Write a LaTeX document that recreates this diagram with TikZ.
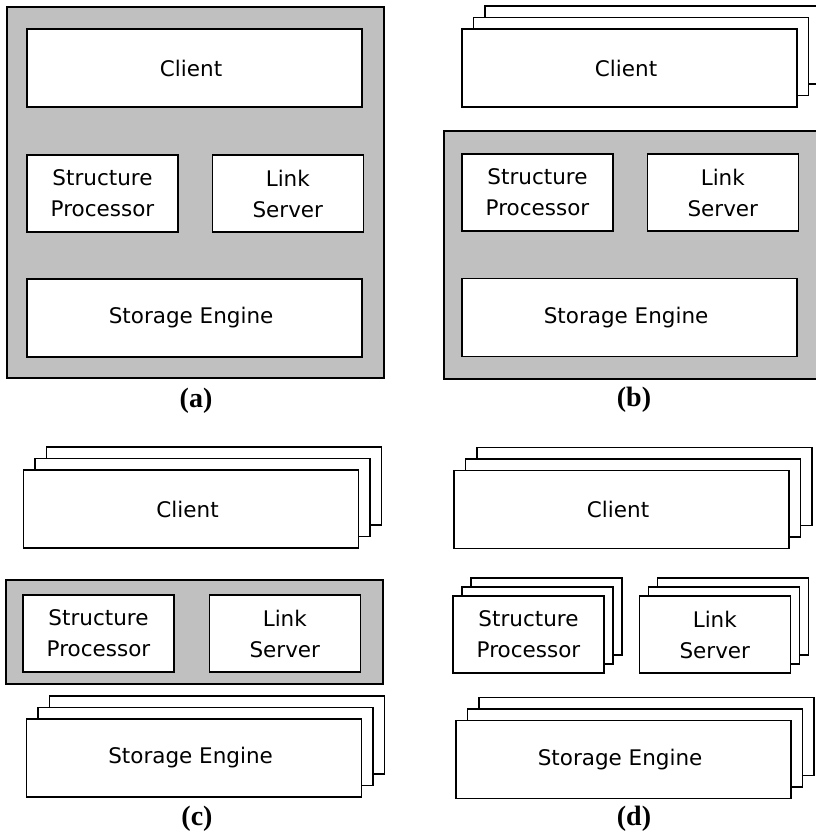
\documentclass[tikz,border=0pt]{standalone}
\usepackage{fontspec}
\usepackage{tikz}
\usetikzlibrary{positioning, shadows}

\newfontfamily\boxfont{DejaVu Sans}
\newfontfamily\capfont{Liberation Serif}
\definecolor{panelgray}{RGB}{192,192,192}

\begin{document}
\begin{tikzpicture}[x=1pt, y=-1pt,
	font=\boxfont\fontsize{21.5}{31}\selectfont,
	block/.style = { rectangle, draw=black, line width=1.3pt, fill=white,
	inner sep=0pt, align=center },
	wide/.style = { block, minimum width=335pt, minimum height=78pt },
	half/.style = { block, minimum width=151pt, minimum height=77pt },
	panel/.style = { rectangle, draw=black, line width=1.8pt, fill=panelgray,
	minimum width=377pt },
	stack/.style = {
	copy shadow={shadow xshift=2*#1, shadow yshift=2*#1, opacity=1,
	fill=white, draw=black},
	copy shadow={shadow xshift=#1, shadow yshift=#1, opacity=1,
	fill=white, draw=black} },
	caption/.style = { font=\capfont\bfseries\fontsize{28}{30}\selectfont } ]

  \useasboundingbox (0,0) rectangle (816,835);
  \clip (0,0) rectangle (816,835);

  % (a) everything in one place
  \begin{scope}[shift={(27,29)}, name prefix=a-]
  \node [name=panel, panel, minimum height=371pt] at (168.5,163.5) {};
  \node [name=client, wide] at (167.5,39) { Client };
  \node [name=structure, half] at (75.5,164.5) { Structure\\Processor };
  \node [name=link, half, right=33pt of structure] { Link\\Server };
  \node [name=storage, wide] at (167.5,289) { Storage Engine };
  \end{scope}

  % (b) many clients
  \begin{scope}[shift={(462,29)}, name prefix=b-]
  \node [name=panel, panel, minimum height=248pt] at (170.5,226) {};
  \node [name=client, wide, stack=11.5pt] at (167.5,39) { Client };
  \node [name=structure, half] at (75.5,163.5) { Structure\\Processor };
  \node [name=link, half, right=33pt of structure] { Link\\Server };
  \node [name=storage, wide] at (167.5,288.5) { Storage Engine };
  \end{scope}

  % (c) many clients and storage engines
  \begin{scope}[shift={(23,471)}, name prefix=c-]
  \node [name=panel, panel, minimum height=104pt] at (171.5,161) {};
  \node [name=client, wide, stack=11.5pt] at (168,38) { Client };
  \node [name=structure, half] at (75.5,162.5) { Structure\\Processor };
  \node [name=link, half, right=34pt of structure] { Link\\Server };
  \node [name=storage, wide, stack=11.5pt] at (171,287) { Storage Engine };
  \end{scope}

  % (d) everything replicated
  \begin{scope}[shift={(453,471)}, name prefix=d-]
  \node [name=client, wide, stack=11.5pt] at (168.5,38.5) { Client };
  \node [name=structure, half, stack=9pt] at (75.5,163.5) { Structure\\Processor };
  \node [name=link, half, stack=9pt, right=34pt of structure] { Link\\Server };
  \node [name=storage, wide, stack=11.5pt] at (170.5,288.5) { Storage Engine };
  \end{scope}

  \node [name=capa, caption] at (196,401) { (a) };
  \node [name=capb, caption] at (634,400) { (b) };
  \node [name=capc, caption] at (197,819) { (c) };
  \node [name=capd, caption] at (634,819) { (d) };
\end{tikzpicture}
\end{document}
